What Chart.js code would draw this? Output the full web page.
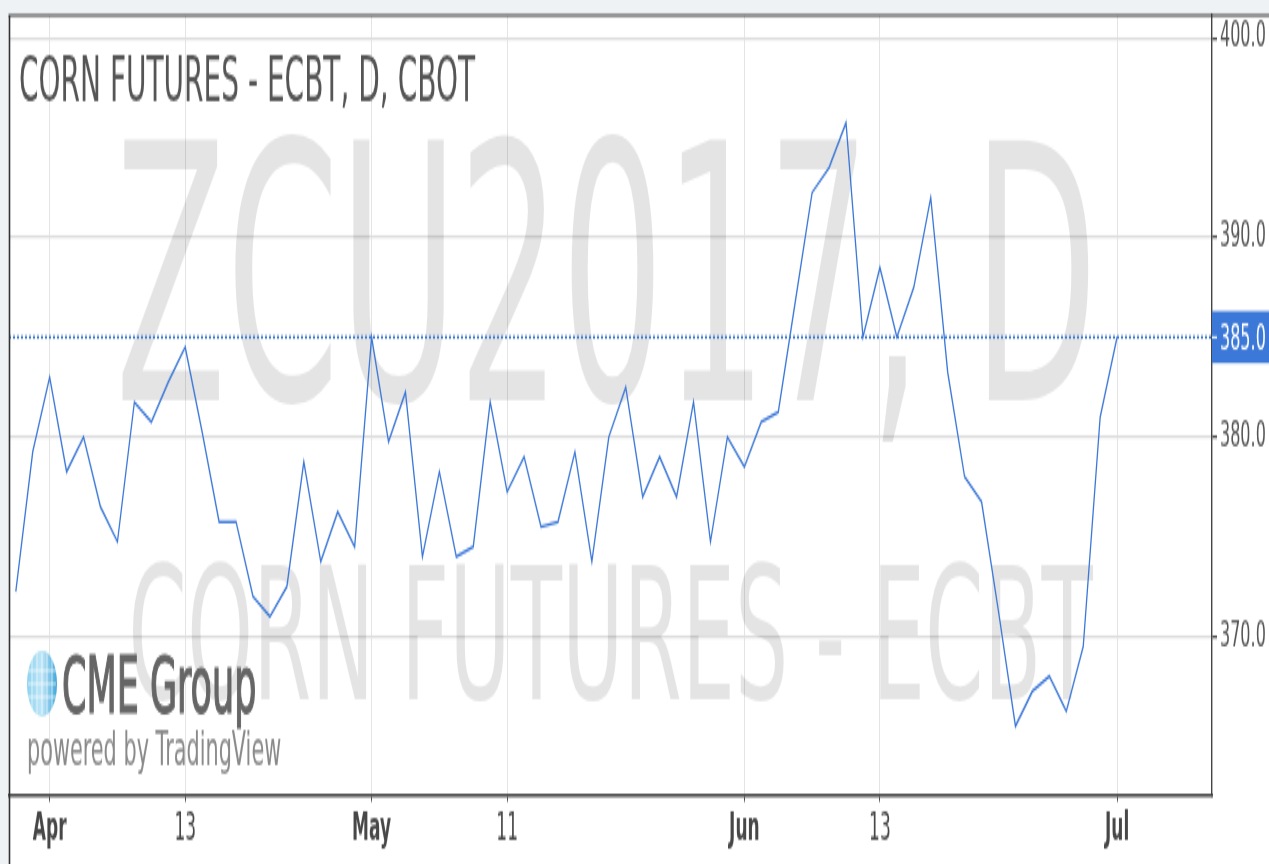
<!DOCTYPE html>
<html>
<head>
<meta charset="utf-8">
<script src="https://cdn.jsdelivr.net/npm/chart.js@4.4.1/dist/chart.umd.min.js"></script>
<style>
  html, body { margin: 0; padding: 0; background: #eef2f5; overflow: hidden; }
  /* the reference is a vertically stretched screenshot, so draw flat and stretch */
  #wrap { position: absolute; left: 0; top: 0; width: 1269px; height: 393px;
          transform: scaleY(2.1985); transform-origin: 0 0; }
</style>
</head>
<body>
<div id="wrap"><canvas id="chart"></canvas></div>
<script>
// trading sessions (CBOT daily)
const dates = [
  '2017-03-30','2017-03-31',
  '2017-04-03','2017-04-04','2017-04-05','2017-04-06','2017-04-07',
  '2017-04-10','2017-04-11','2017-04-12','2017-04-13',
  '2017-04-17','2017-04-18','2017-04-19','2017-04-20','2017-04-21',
  '2017-04-24','2017-04-25','2017-04-26','2017-04-27','2017-04-28',
  '2017-05-01','2017-05-02','2017-05-03','2017-05-04','2017-05-05',
  '2017-05-08','2017-05-09','2017-05-10','2017-05-11','2017-05-12',
  '2017-05-15','2017-05-16','2017-05-17','2017-05-18','2017-05-19',
  '2017-05-22','2017-05-23','2017-05-24','2017-05-25','2017-05-26',
  '2017-05-30','2017-05-31',
  '2017-06-01','2017-06-02',
  '2017-06-05','2017-06-06','2017-06-07','2017-06-08','2017-06-09',
  '2017-06-12','2017-06-13','2017-06-14','2017-06-15','2017-06-16',
  '2017-06-19','2017-06-20','2017-06-21','2017-06-22','2017-06-23',
  '2017-06-26','2017-06-27','2017-06-28','2017-06-29','2017-06-30',
  '2017-07-03'
];

// close prices, cents per bushel
const prices = [
  372.25, 379.25,
  383, 378.25, 380, 376.5, 374.75,
  381.75, 380.75, 382.75, 384.5,
  380.25, 375.75, 375.75, 372, 371,
  372.5, 378.75, 373.75, 376.25, 374.5,
  385, 379.75, 382.25, 374, 378.25,
  374, 374.5, 381.75, 377.25, 379,
  375.5, 375.75, 379.25, 373.75, 380,
  382.5, 377, 379, 377, 381.75,
  374.75, 380,
  378.5, 380.75,
  381.25, 386.75, 392.25, 393.5, 395.75,
  385, 388.5, 385, 387.5, 392,
  383.25, 378, 376.75, 371.25, 365.5,
  367.25, 368, 366.25, 369.5, 381,
  385
];

const tickDates  = ['2017-04-03', '2017-04-13', '2017-05-01', '2017-05-11', '2017-06-01', '2017-06-13', '2017-07-03'];
const tickLabels = ['Apr', '13', 'May', '11', 'Jun', '13', 'Jul'];
const tickBold   = [true, false, true, false, true, false, true];
const yTicks     = [370, 380, 390, 400];

const titleText = 'CORN FUTURES - ECBT, D, CBOT';
const watermark = ['ZCU2017, D', 'CORN FUTURES - ECBT'];

const tickPos = tickDates.map(d => dates.indexOf(d));
const points = prices.map((v, i) => ({ x: i, y: v }));
const lastPrice = prices[prices.length - 1];
const blue = '#3c78d8';
const font = 'DejaVu Sans';

const frame = {
  id: 'frame',
  beforeDraw(chart) {
    const { ctx, width, height } = chart;
    ctx.save();
    ctx.fillStyle = '#eef2f5';
    ctx.fillRect(0, 0, width, height);
    ctx.fillStyle = '#ffffff';
    ctx.fillRect(9, 6.5, width - 9, height - 6.5);
    ctx.restore();
  },
  beforeDatasetsDraw(chart) {
    const { ctx, chartArea: a } = chart;
    ctx.save();
    // watermark
    ctx.fillStyle = 'rgba(0,0,0,0.105)';
    ctx.textAlign = 'center';
    ctx.textBaseline = 'alphabetic';
    const cx = (a.left + a.right) / 2;
    ctx.font = '162px "' + font + '"';
    ctx.fillText(watermark[0], cx - 4, a.top + 175);
    ctx.font = '84px "' + font + '"';
    ctx.fillText(watermark[1], cx, a.top + 311);

    // title
    ctx.textAlign = 'left';
    ctx.fillStyle = '#555555';
    ctx.font = '28px "' + font + '"';
    ctx.fillText(titleText, 19, 45.5);

    // CME logo
    const gx = 42, gy = 311, r = 15;
    const g = ctx.createLinearGradient(gx - r, 0, gx + r, 0);
    g.addColorStop(0, '#8ed3ef');
    g.addColorStop(0.5, '#bfe6f7');
    g.addColorStop(1, '#3fa6da');
    ctx.fillStyle = g;
    ctx.beginPath();
    ctx.arc(gx, gy, r, 0, Math.PI * 2);
    ctx.fill();
    ctx.strokeStyle = 'rgba(255,255,255,0.8)';
    ctx.lineWidth = 0.8;
    for (let k = -2; k <= 2; k++) {
      ctx.beginPath();
      ctx.moveTo(gx + k * 5, gy - r + 1);
      ctx.lineTo(gx + k * 5, gy + r - 1);
      ctx.stroke();
    }
    for (let k = -1; k <= 1; k++) {
      ctx.beginPath();
      ctx.moveTo(gx - r + 1, gy + k * 6);
      ctx.lineTo(gx + r - 1, gy + k * 6);
      ctx.stroke();
    }
    ctx.fillStyle = '#666666';
    ctx.strokeStyle = '#666666';
    ctx.lineWidth = 0.9;
    ctx.font = '35px "' + font + '"';
    ctx.fillText('CME Group', 62, 323.8);
    ctx.strokeText('CME Group', 62, 323.8);
    ctx.fillStyle = '#8a8a8a';
    ctx.font = '20.8px "' + font + '"';
    ctx.fillText('powered by TradingView', 27, 348);

    // last price line
    const y = chart.scales.y.getPixelForValue(lastPrice);
    ctx.strokeStyle = blue;
    ctx.lineWidth = 1.4;
    ctx.setLineDash([2, 2]);
    ctx.beginPath();
    ctx.moveTo(a.left, y);
    ctx.lineTo(a.right, y);
    ctx.stroke();
    ctx.restore();
  },
  afterDraw(chart) {
    const { ctx, chartArea: a, width, height } = chart;
    ctx.save();
    // outer border
    ctx.strokeStyle = '#333333';
    ctx.lineWidth = 1.1;
    ctx.beginPath();
    ctx.moveTo(8.5, 7);
    ctx.lineTo(width, 7);
    ctx.stroke();
    ctx.lineWidth = 1.6;
    ctx.beginPath();
    ctx.moveTo(9.5, 7);
    ctx.lineTo(9.5, height);
    ctx.stroke();

    // last price label
    const y = chart.scales.y.getPixelForValue(lastPrice);
    ctx.fillStyle = blue;
    ctx.fillRect(a.right, y - 11.8, width - a.right, 23.6);
    ctx.strokeStyle = '#ffffff';
    ctx.lineWidth = 1;
    ctx.beginPath();
    ctx.moveTo(a.right, y);
    ctx.lineTo(a.right + 5, y);
    ctx.stroke();
    ctx.fillStyle = '#ffffff';
    ctx.font = '16px "' + font + '"';
    ctx.textBaseline = 'middle';
    ctx.fillText(lastPrice.toFixed(1), a.right + 8, y + 1);
    ctx.restore();
  }
};

new Chart(document.getElementById('chart'), {
  type: 'line',
  data: {
    datasets: [{
      label: 'ZCU2017',
      data: points,
      borderColor: blue,
      borderWidth: 1.3,
      pointRadius: 0,
      tension: 0,
      fill: false
    }]
  },
  options: {
    responsive: true,
    maintainAspectRatio: false,
    animation: false,
    layout: { padding: { top: 6.8, left: 9, right: 0, bottom: 0 } },
    plugins: { legend: { display: false }, tooltip: { enabled: false } },
    scales: {
      x: {
        type: 'linear',
        min: -0.4,
        max: 70.6,
        afterBuildTicks: s => { s.ticks = tickPos.map(v => ({ value: v })); },
        afterFit: s => { s.height = 31.4; s.paddingLeft = 0; s.paddingRight = 0; },
        grid: { color: '#e4e4e4', lineWidth: 1, tickLength: 3, tickColor: '#444' },
        border: { color: '#444', width: 1.4 },
        ticks: {
          autoSkip: false,
          maxRotation: 0,
          padding: 3,
          color: '#474747',
          font: c => ({ family: font, size: 17, weight: tickBold[c.index] ? 'bold' : 'normal' }),
          callback: (v, i) => tickLabels[i]
        }
      },
      y: {
        position: 'right',
        min: 362.05,
        max: 401.15,
        afterBuildTicks: s => { s.ticks = yTicks.map(v => ({ value: v })); },
        afterFit: s => { s.width = 57; s.paddingTop = 0; s.paddingBottom = 0; },
        grid: { color: '#dedede', lineWidth: 1.3, tickLength: 5, tickColor: '#555' },
        border: { color: '#444', width: 1.4 },
        ticks: {
          padding: 3,
          color: '#555555',
          font: { family: font, size: 16 },
          callback: v => v.toFixed(1)
        }
      }
    }
  },
  plugins: [frame]
});
</script>
</body>
</html>
